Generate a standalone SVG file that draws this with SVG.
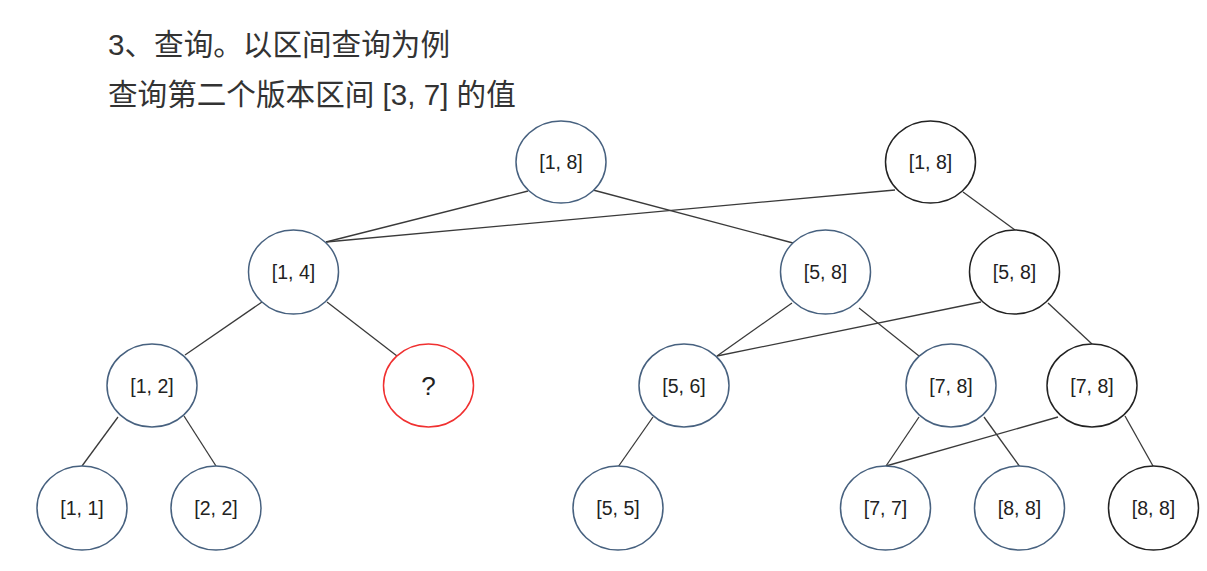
<svg xmlns="http://www.w3.org/2000/svg" width="1207" height="571" viewBox="0 0 1207 571">
<style>
.title{font-family:"Liberation Sans","Noto Sans CJK SC",sans-serif;font-size:29.6px;fill:#333}
.n ellipse{fill:#fff;stroke-width:1.5}
.v1 ellipse{stroke:#47617f}
.v2 ellipse{stroke:#222}
.q ellipse{stroke:#f03030}
.n text{font-family:"Liberation Sans",Arial,sans-serif;font-size:19.5px;fill:#222;text-anchor:middle}
.q text{font-size:26px}
#edges line{stroke:#3a3a3a;stroke-width:1.3}
</style>
<rect width="1207" height="571" fill="#fff"/>
<text class="title" x="108" y="55">3、查询。以区间查询为例</text>
<text class="title" x="108" y="105">查询第二个版本区间 [3, 7] 的值</text>
<g id="edges">
<line x1="528" y1="191" x2="326" y2="242"/>
<line x1="593" y1="190" x2="793" y2="243"/>
<line x1="895" y1="190" x2="326" y2="242"/>
<line x1="963" y1="192" x2="1015" y2="230"/>
<line x1="262" y1="302" x2="185" y2="355"/>
<line x1="327" y1="302" x2="397" y2="356"/>
<line x1="792" y1="303" x2="717" y2="356"/>
<line x1="981" y1="302" x2="717" y2="356"/>
<line x1="859" y1="308" x2="919" y2="356"/>
<line x1="1048" y1="303" x2="1092" y2="344"/>
<line x1="118" y1="417" x2="82" y2="466"/>
<line x1="184" y1="416" x2="216" y2="466"/>
<line x1="653" y1="417" x2="618" y2="467"/>
<line x1="919" y1="417" x2="886" y2="466"/>
<line x1="984" y1="417" x2="1020" y2="467"/>
<line x1="1058" y1="417" x2="886" y2="466"/>
<line x1="1125" y1="416" x2="1153" y2="466"/>
</g>
<g id="n1_18" class="n v1"><ellipse cx="561" cy="162" rx="45" ry="41"/><text x="561" y="169">[1, 8]</text></g>
<g id="n2_18" class="n v2"><ellipse cx="930.5" cy="162" rx="45" ry="41"/><text x="930.5" y="169">[1, 8]</text></g>
<g id="n1_14" class="n v1"><ellipse cx="293.5" cy="272" rx="45" ry="42"/><text x="293.5" y="279">[1, 4]</text></g>
<g id="n1_58" class="n v1"><ellipse cx="825.5" cy="272" rx="45" ry="42"/><text x="825.5" y="279">[5, 8]</text></g>
<g id="n2_58" class="n v2"><ellipse cx="1014.5" cy="272" rx="45" ry="42"/><text x="1014.5" y="279">[5, 8]</text></g>
<g id="n1_12" class="n v1"><ellipse cx="152" cy="385.5" rx="45" ry="41.5"/><text x="152" y="392.5">[1, 2]</text></g>
<g id="nq" class="n q"><ellipse cx="428.5" cy="385.5" rx="45" ry="41.5"/><text x="428.5" y="395">?</text></g>
<g id="n1_56" class="n v1"><ellipse cx="684" cy="385.5" rx="45" ry="41.5"/><text x="684" y="392.5">[5, 6]</text></g>
<g id="n1_78" class="n v1"><ellipse cx="951" cy="385.5" rx="45" ry="41.5"/><text x="951" y="392.5">[7, 8]</text></g>
<g id="n2_78" class="n v2"><ellipse cx="1092" cy="385.5" rx="45" ry="41.5"/><text x="1092" y="392.5">[7, 8]</text></g>
<g id="n1_11" class="n v1"><ellipse cx="82" cy="508" rx="45" ry="42"/><text x="82" y="515">[1, 1]</text></g>
<g id="n1_22" class="n v1"><ellipse cx="216" cy="508" rx="45" ry="42"/><text x="216" y="515">[2, 2]</text></g>
<g id="n1_55" class="n v1"><ellipse cx="618" cy="508" rx="45" ry="42"/><text x="618" y="515">[5, 5]</text></g>
<g id="n1_77" class="n v1"><ellipse cx="885.5" cy="508" rx="45" ry="42"/><text x="885.5" y="515">[7, 7]</text></g>
<g id="n1_88" class="n v1"><ellipse cx="1019.5" cy="508" rx="45" ry="42"/><text x="1019.5" y="515">[8, 8]</text></g>
<g id="n2_88" class="n v2"><ellipse cx="1153.5" cy="508" rx="45" ry="42"/><text x="1153.5" y="515">[8, 8]</text></g>
</svg>
